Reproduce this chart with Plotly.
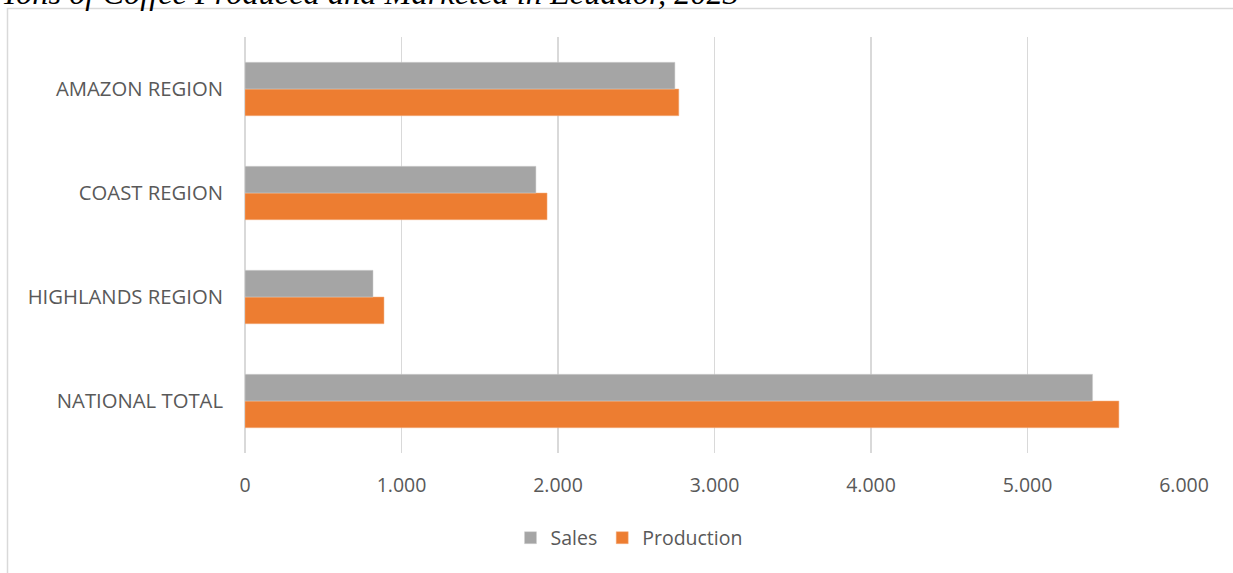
import plotly.graph_objects as go

categories = ["NATIONAL TOTAL", "HIGHLANDS REGION", "COAST REGION", "AMAZON REGION"]
sales = [5416, 818, 1859, 2747]
production = [5584, 888, 1930, 2772]
x_ticks = [0, 1000, 2000, 3000, 4000, 5000, 6000]
title_text = "Tons of Coffee Produced and Marketed in Ecuador, 2023"

W, H = 1233, 573
L, R, T, B = 245, 49, 37, 120
pw, ph = W - L - R, H - T - B

def px_x(p):
    return (p - L) / pw

def px_y(p):
    return (H - B - p) / ph

FONT = "Open Sans"
TXT = "#595959"

fig = go.Figure()
fig.add_trace(go.Bar(
    y=categories, x=production, name="Production", orientation="h",
    marker=dict(color="#ed7d31", line=dict(color="#f4b183", width=0.5)),
))
fig.add_trace(go.Bar(
    y=categories, x=sales, name="Sales", orientation="h",
    marker=dict(color="#a5a5a5", line=dict(color="#d0d0d0", width=0.5)),
))

fig.update_layout(
    width=W, height=H,
    margin=dict(l=L, r=R, t=T, b=B, autoexpand=False),
    paper_bgcolor="white", plot_bgcolor="white",
    barmode="group", bargap=0.486, bargroupgap=0,
    separators=",.",
    font=dict(family=FONT, size=19.5, color=TXT),
    showlegend=True,
    legend=dict(
        orientation="h", traceorder="reversed",
        x=px_x(629), xanchor="center", y=px_y(538), yanchor="middle",
        font=dict(family=FONT, size=19.5, color=TXT),
        itemwidth=30, bgcolor="rgba(0,0,0,0)",
    ),
    xaxis=dict(
        range=[0, 6000], tickvals=x_ticks, tickformat=",d",
        showgrid=True, gridcolor="#d9d9d9", gridwidth=1.5,
        zeroline=True, zerolinecolor="#d9d9d9", zerolinewidth=1.5,
        showline=False, ticks="", ticklabelstandoff=18,
        tickfont=dict(family=FONT, size=19.5, color=TXT),
        fixedrange=True,
    ),
    yaxis=dict(
        categoryorder="array", categoryarray=categories,
        showgrid=False, zeroline=False, showline=False, ticks="",
        ticklabelstandoff=21,
        tickfont=dict(family=FONT, size=20.3, color=TXT),
        fixedrange=True,
    ),
    shapes=[dict(
        type="rect", xref="paper", yref="paper",
        x0=px_x(7.5), x1=px_x(1245), y0=px_y(8.5), y1=px_y(590),
        line=dict(color="#d9d9d9", width=1.5), fillcolor="rgba(0,0,0,0)",
        layer="below",
    )],
    annotations=[dict(
        text="<i>" + title_text + "</i>", showarrow=False,
        xref="paper", yref="paper", x=px_x(-1), xanchor="left",
        y=px_y(13), yanchor="bottom",
        font=dict(family="Liberation Serif", size=32.4, color="black"),
    )],
)

fig.write_html(
    "out.html",
    config={"displayModeBar": False, "staticPlot": True},
    post_script="document.body.style.margin='0';document.body.style.padding='0';",
)
